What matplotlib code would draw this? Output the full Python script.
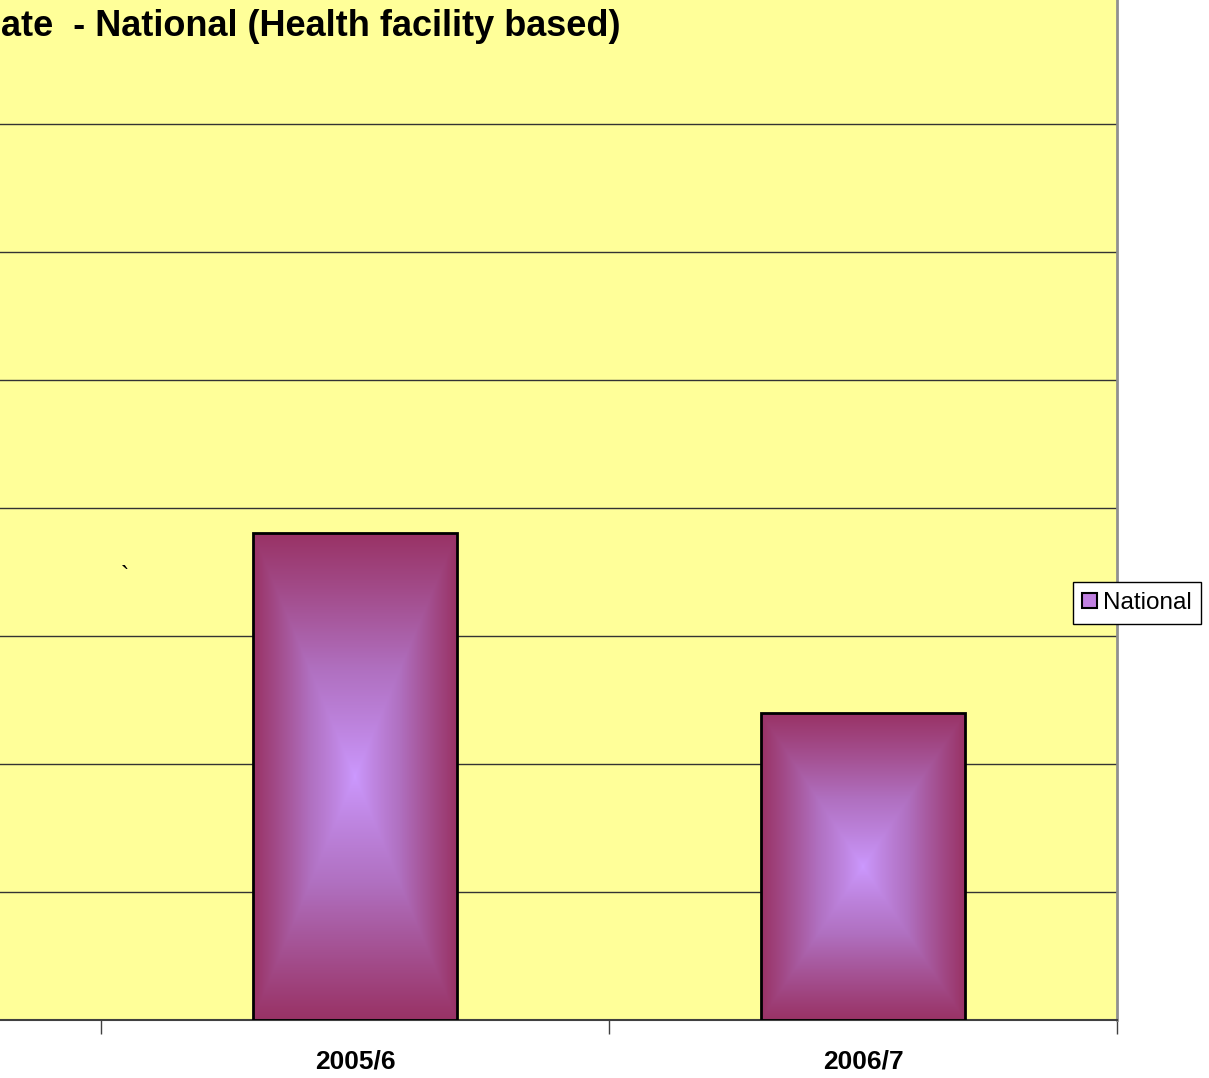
import numpy as np
import matplotlib
matplotlib.use("Agg")
import matplotlib.pyplot as plt
from matplotlib.colors import LinearSegmentedColormap
from matplotlib.patches import Patch

categories = ["2005/6", "2006/7"]
values = [3.80, 2.40]
series_name = "National"
title_text = "ate  - National (Health facility based)"

plt.rcParams['font.family'] = ['Liberation Sans', 'DejaVu Sans']

W, H = 1209, 1078
fig = plt.figure(figsize=(W / 100, H / 100), dpi=100)
fig.patch.set_facecolor('white')

left_px, right_px = -407, 1117
bottom_px = 1019.5
top_px = bottom_px - 8 * 127.9
ax = fig.add_axes([left_px / W, 1 - bottom_px / H, (right_px - left_px) / W, (bottom_px - top_px) / H])
ax.set_facecolor('#FFFF99')

x = np.arange(len(categories))
ax.set_yticks(np.arange(0, 8, 1))
ax.yaxis.grid(True, color='#333333', linewidth=1)
ax.set_axisbelow(True)
ax.tick_params(axis='y', length=0, labelleft=False)

cmap = LinearSegmentedColormap.from_list('plum', ['#CC99FF', '#B070C0', '#993366'])
bars = ax.bar(x, values, width=0.4, facecolor='none', edgecolor='black', linewidth=2, zorder=3)
n = 200
u = np.linspace(-1, 1, n)
U, V = np.meshgrid(u, u)
T = np.maximum(np.abs(U), np.abs(V)) ** 0.85
for b in bars:
    h = b.get_height()
    im = ax.imshow(T, cmap=cmap, vmin=0, vmax=1, aspect='auto', interpolation='bilinear',
                   extent=[b.get_x(), b.get_x() + b.get_width(), 0, h], zorder=2)
    im.set_clip_path(b)
ax.set_xlim(-1.5, len(categories) - 0.5)
ax.set_ylim(0, 8)

# category boundary ticks
ax.set_xticks(np.arange(len(categories) + 1) - 0.5)
ax.set_xticklabels([])
ax.tick_params(axis='x', direction='out', length=10, color='#404040', width=1)
for xi, c in zip(x, categories):
    ax.text(xi, -0.235, c, ha='center', va='top', fontsize=19, fontweight='bold', zorder=5, clip_on=False)

for s in ['top', 'left']:
    ax.spines[s].set_visible(False)
ax.spines['bottom'].set_color('#404040')
ax.spines['bottom'].set_linewidth(1.5)
ax.spines['right'].set_color('#909090')
ax.spines['right'].set_linewidth(2)

ax.text(-0.453, 3.46, '`', ha='center', va='center', fontsize=18)

fig.text(1 / W, 1 - 26 / H, title_text, ha='left', va='center', fontsize=26, fontweight='bold')

handle = Patch(facecolor='#C080E0', edgecolor='black', linewidth=1.5)
leg = fig.legend([handle], [series_name], loc='center', bbox_to_anchor=(1137 / W, 1 - 603 / H),
                 fontsize=17.5, frameon=True, fancybox=False, edgecolor='black', framealpha=1,
                 handlelength=0.6, handleheight=0.6, handletextpad=0.25, borderpad=0.4)
leg.get_frame().set_linewidth(1)

fig.savefig('out.png', dpi=100)
